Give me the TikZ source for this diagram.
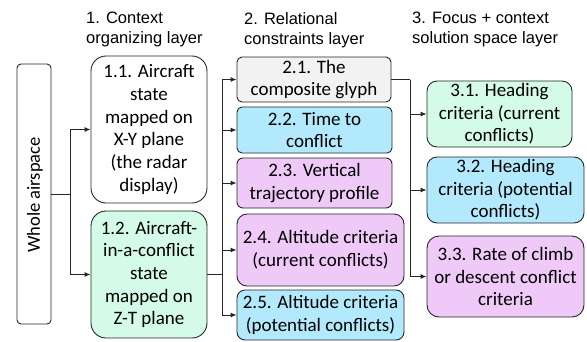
\documentclass[tikz,border=0pt]{standalone}
\usepackage{fontspec}
\setmainfont{Carlito}
\newfontfamily\hdrfont{Liberation Sans}
\usetikzlibrary{arrows.meta}
\definecolor{cgrey}{HTML}{F2F2F2}
\definecolor{cblue}{HTML}{B2E9FC}
\definecolor{cviolet}{HTML}{EFCAF8}
\definecolor{cgreen}{HTML}{D3FBE7}
\definecolor{cline}{HTML}{262626}
\begin{document}
\begin{tikzpicture}[x=1pt,y=-1pt,
  box/.style={draw=cline, line width=0.9pt, inner sep=0pt, align=center,
    font=\fontsize{19}{22.7}\selectfont},
  hdr/.style={inner sep=0pt, align=left, anchor=north west,
    font=\hdrfont\fontsize{16.5}{20}\selectfont},
  conn/.style={draw=cline, line width=0.9pt},
  arr/.style={conn, -{Latex[length=6pt,width=5pt]}}
]
\useasboundingbox (0,0) rectangle (587,341);

% headers
\node[hdr] (h1) at (86,12) {1. Context\\organizing layer};
\node[hdr] (h2) at (244,12) {2. Relational\\constraints layer};
\node[hdr] (h3) at (412,12) {3. Focus + context\\solution space layer};

% boxes
\node[box, rounded corners=4pt, minimum width=34pt, minimum height=260pt] (wa) at (34,194) {};
\node[rotate=90, inner sep=0pt, font=\fontsize{18.5}{22.5}\selectfont] (wat) at (35,195) {Whole airspace};

\node[box, fill=white, rounded corners=15pt, minimum width=116pt, minimum height=147pt] (b11) at (149,129.5)
  {1.1. Aircraft\\state\\mapped on\\X-Y plane\\(the radar\\display)};
\node[box, fill=cgreen, rounded corners=15pt, minimum width=116pt, minimum height=127pt] (b12) at (149,274.5)
  {1.2. Aircraft-\\in-a-conflict\\state\\mapped on\\Z-T plane};

\node[box, fill=cgrey, rounded corners=5pt, minimum width=154pt, minimum height=45pt] (b21) at (314,79.5)
  {2.1. The\\composite glyph};
\node[box, fill=cblue, rounded corners=5pt, minimum width=155pt, minimum height=46pt] (b22) at (314.5,130)
  {2.2. Time to\\conflict};
\node[box, fill=cviolet, rounded corners=6pt, minimum width=155pt, minimum height=50pt] (b23) at (314.5,183)
  {2.3. Vertical\\trajectory profile};
\node[box, fill=cviolet, rounded corners=10pt, minimum width=167pt, minimum height=72pt] (b24) at (320.5,250)
  {2.4. Altitude criteria\\(current conflicts)};
\node[box, fill=cblue, rounded corners=8pt, minimum width=167pt, minimum height=50pt] (b25) at (320.5,315)
  {2.5. Altitude criteria\\(potential conflicts)};

\node[box, fill=cgreen, rounded corners=10pt, minimum width=145pt, minimum height=66pt] (b31) at (499.5,114)
  {3.1. Heading\\criteria (current\\conflicts)};
\node[box, fill=cblue, rounded corners=10pt, minimum width=157pt, minimum height=66pt] (b32) at (505.5,190)
  {3.2. Heading\\criteria (potential\\conflicts)};
\node[box, fill=cviolet, rounded corners=12pt, minimum width=157pt, minimum height=81pt] (b33) at (505.5,276.5)
  {3.3. Rate of climb\\or descent conflict\\criteria};

% junctions
\coordinate (j1) at (70,194);
\coordinate (j2) at (222,274.5);
\coordinate (j3) at (410,79.5);

% connectors
\draw[conn] (wa.east |- j1) -- (j1);
\draw[arr] (j1) |- (b11.west);
\draw[arr] (j1) |- (b12.west);

\draw[conn] (b12.east) -- (j2);
\draw[arr] (j2) |- (b21.west);
\draw[arr] (j2) |- (b22.west);
\draw[arr] (j2) |- (b23.west);
\draw[arr] (j2) |- (b24.west);
\draw[arr] (j2) |- (b25.west);

\draw[conn] (b21.east) -- (j3);
\draw[arr] (j3) |- (b31.west);
\draw[arr] (j3) |- (b32.west);
\draw[arr] (j3) |- (b33.west);
\end{tikzpicture}
\end{document}
